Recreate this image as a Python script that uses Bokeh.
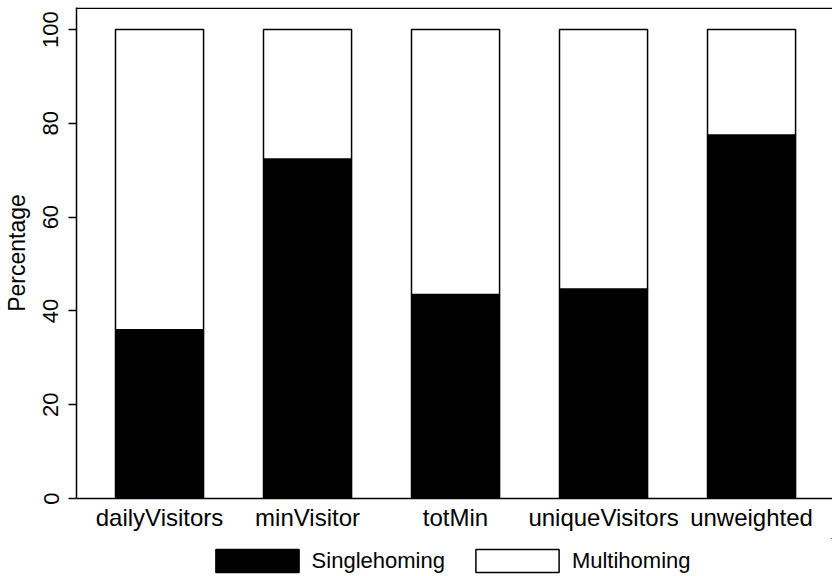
from bokeh.plotting import figure
from bokeh.layouts import column
from bokeh.models import FixedTicker, Legend, LegendItem, Span, Range1d
from bokeh.embed import file_html
from bokeh.resources import INLINE

categories = ["dailyVisitors", "minVisitor", "totMin", "uniqueVisitors", "unweighted"]
singlehoming = [36.0, 72.4, 43.5, 44.7, 77.5]
multihoming = [64.0, 27.6, 56.5, 55.3, 22.5]
y_ticks = [0, 20, 40, 60, 80, 100]
series_names = ["Singlehoming", "Multihoming"]
series_fill = ["black", "white"]

xs = list(range(1, len(categories) + 1))
totals = [s + m for s, m in zip(singlehoming, multihoming)]
FONT = "Liberation Sans"

p = figure(width=832, height=538,
           output_backend="svg", toolbar_location=None,
           x_range=Range1d(0.439, 5.547), y_range=Range1d(0, 104.7),
           min_border_left=76, min_border_right=0, min_border_top=7, min_border_bottom=40,
           background_fill_color="white", border_fill_color="white")
p.outline_line_color = None
p.grid.visible = False

r1 = p.vbar(x=xs, bottom=0, top=singlehoming, width=0.595,
            fill_color=series_fill[0], line_color="black", line_width=1.5)
r2 = p.vbar(x=xs, bottom=singlehoming, top=totals, width=0.595,
            fill_color=series_fill[1], line_color="black", line_width=1.5)

p.add_layout(Span(location=104.55, dimension="width", line_color="black", line_width=1.5))

xa = p.xaxis[0]
xa.ticker = FixedTicker(ticks=xs)
xa.major_label_overrides = {x: c for x, c in zip(xs, categories)}
xa.major_tick_out = 0
xa.major_tick_in = 0
xa.minor_tick_out = 0
xa.minor_tick_in = 0
xa.axis_line_width = 1.5
xa.major_label_standoff = 5
xa.major_label_text_font = FONT
xa.major_label_text_font_size = "24px"
xa.major_label_text_color = "black"

ya = p.yaxis[0]
ya.ticker = FixedTicker(ticks=y_ticks)
ya.major_tick_out = 8
ya.major_tick_in = 0
ya.minor_tick_out = 0
ya.minor_tick_in = 0
ya.axis_line_width = 1.5
ya.major_tick_line_width = 1.5
ya.major_label_orientation = "vertical"
ya.major_label_standoff = 10
ya.major_label_text_font = FONT
ya.major_label_text_font_size = "22px"
ya.major_label_text_color = "black"
ya.axis_label = "Percentage"
ya.axis_label_text_font = FONT
ya.axis_label_text_font_size = "23px"
ya.axis_label_text_font_style = "normal"
ya.axis_label_text_color = "black"
ya.axis_label_standoff = 11

# legend strip below the chart (its bars lie far outside its visible ranges)
lg = figure(width=832, height=38, output_backend="svg", toolbar_location=None,
            x_range=Range1d(-100, -99), y_range=Range1d(-100, -99),
            x_axis_location=None, y_axis_location=None,
            min_border_left=0, min_border_right=0, min_border_top=0, min_border_bottom=0,
            background_fill_color="white", border_fill_color="white")
lg.outline_line_color = None
lg.grid.visible = False
lr1 = lg.vbar(x=xs, bottom=0, top=singlehoming, width=0.595,
              fill_color=series_fill[0], line_color="black", line_width=1.5)
lr2 = lg.vbar(x=xs, bottom=singlehoming, top=totals, width=0.595,
              fill_color=series_fill[1], line_color="black", line_width=1.5)

legend = Legend(items=[LegendItem(label=n, renderers=[r]) for n, r in zip(series_names, [lr1, lr2])],
                orientation="horizontal", location=(128.6, 1),
                glyph_width=104, glyph_height=29, label_standoff=3, spacing=20,
                label_text_font=FONT, label_text_font_size="22px", label_text_color="black",
                border_line_color=None, background_fill_alpha=0,
                margin=0, padding=0)
lg.add_layout(legend, "center")

layout = column(p, lg, spacing=0)
open("out.html", "w").write(file_html(layout, INLINE))
